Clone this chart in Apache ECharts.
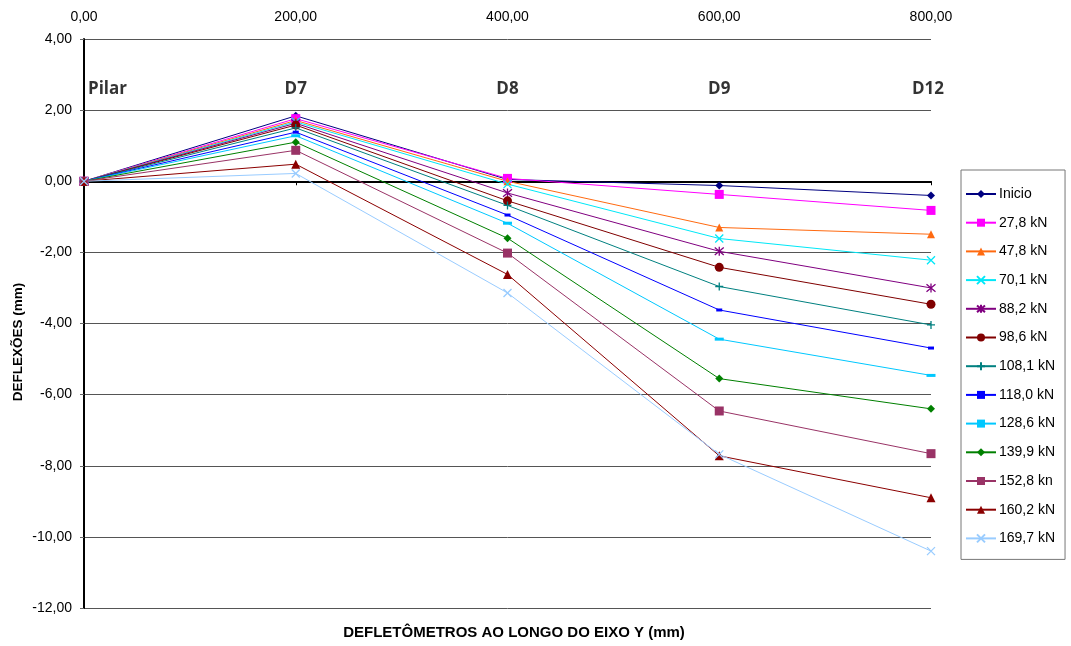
<!DOCTYPE html>
<html><head><meta charset="utf-8">
<script src="https://cdn.jsdelivr.net/npm/echarts@6/dist/echarts.min.js"></script>
<style>html,body{margin:0;padding:0;background:#fff}#c{width:1071px;height:646px}</style>
</head><body><div id="c"></div>
<script>
const xPositions = [0, 200, 400, 600, 800];
const pointNames = ['Pilar', 'D7', 'D8', 'D9', 'D12'];
const seriesNames = ['Inicio','27,8 kN','47,8 kN','70,1 kN','88,2 kN','98,6 kN','108,1 kN','118,0 kN','128,6 kN','139,9 kN','152,8 kn','160,2 kN','169,7 kN'];
const sInicio = [0, 1.84, 0.05, -0.12, -0.40];
const s27_8  = [0, 1.76, 0.08, -0.37, -0.82];
const s47_8  = [0, 1.71, 0.00, -1.30, -1.49];
const s70_1  = [0, 1.67, -0.08, -1.61, -2.22];
const s88_2  = [0, 1.63, -0.33, -1.97, -3.00];
const s98_6  = [0, 1.58, -0.55, -2.42, -3.46];
const s108_1 = [0, 1.50, -0.68, -2.96, -4.04];
const s118_0 = [0, 1.38, -0.95, -3.62, -4.69];
const s128_6 = [0, 1.28, -1.18, -4.44, -5.46];
const s139_9 = [0, 1.10, -1.60, -5.55, -6.40];
const s152_8 = [0, 0.87, -2.02, -6.46, -7.66];
const s160_2 = [0, 0.48, -2.62, -7.72, -8.90];
const s169_7 = [0, 0.22, -3.14, -7.68, -10.40];
const pointLabelLevel = 2.6;

const allValues = [sInicio,s27_8,s47_8,s70_1,s88_2,s98_6,s108_1,s118_0,s128_6,s139_9,s152_8,s160_2,s169_7];
const colors = ['#000080','#FF00FF','#FF6A10','#00E8F8','#800080','#800000','#008080','#0000FF','#00C8FF','#008000','#993366','#8B0000','#99CCFF'];
const X = 'path://M0,0L10,10M10,0L0,10';
const STAR = 'path://M0,0L10,10M10,0L0,10M5,-1L5,11';
const PLUS = 'path://M5,0L5,10M0,5L10,5';
const symbols = ['diamond','rect','triangle',X,STAR,'circle',PLUS,'rect','rect','diamond','rect','triangle',X];
const sizes = [8,9,8,8,9,9,8,[6,3],[9,3],8,9,9,8];

const fmt = v => v.toFixed(2).replace('.', ',');
const FONT = 'Liberation Sans, Arial, sans-serif';

const series = seriesNames.map((n, i) => ({
  name: n,
  type: 'line',
  xAxisIndex: 0,
  data: xPositions.map((x, j) => [x, allValues[i][j]]),
  symbol: symbols[i],
  symbolSize: sizes[i],
  showAllSymbol: true,
  color: colors[i],
  lineStyle: { color: colors[i], width: 1 },
  itemStyle: { color: colors[i], borderColor: colors[i], borderWidth: (typeof symbols[i] === 'string' && symbols[i].startsWith('path')) ? 1.3 : 0 },
  emphasis: { disabled: true },
  animation: false
}));

series.push({
  type: 'scatter',
  name: 'labels',
  xAxisIndex: 0,
  symbolSize: 0,
  silent: true,
  data: xPositions.map((x, j) => ({
    value: [x, pointLabelLevel],
    name: pointNames[j],
    label: j === 0 ? { align: 'left', offset: [4, 0] } : (j === 4 ? { offset: [-3, 0] } : {})
  })),
  label: {
    show: true, position: 'inside', formatter: p => p.name,
    fontFamily: 'Open Sans, Liberation Sans, sans-serif', fontWeight: 'bold', fontSize: 17, color: '#000'
  },
  animation: false
});

const chart = echarts.init(document.getElementById('c'), null, { renderer: 'canvas' });
chart.setOption({
  backgroundColor: '#fff',
  animation: false,
  grid: { left: 84, right: 140, top: 39, bottom: 38 },
  xAxis: [
    { type: 'value', position: 'bottom', min: 0, max: 800, interval: 200,
      axisLine: { show: true, onZero: true, onZeroAxisIndex: 0, lineStyle: { color: '#000', width: 2 } },
      axisTick: { show: true, inside: false, length: 4, lineStyle: { color: '#000' } },
      axisLabel: { show: false }, splitLine: { show: false } },
    { type: 'value', position: 'top', min: 0, max: 800, interval: 200,
      axisLine: { show: false, onZero: false }, axisTick: { show: false }, splitLine: { show: false },
      axisLabel: { formatter: fmt, margin: 15, fontFamily: FONT, fontSize: 14, color: '#000' } }
  ],
  yAxis: {
    type: 'value', min: -12, max: 4, interval: 2,
    axisLine: { show: true, onZero: false, lineStyle: { color: '#000', width: 2 } },
    axisTick: { show: true, inside: false, length: 4, lineStyle: { color: '#666' } },
    axisLabel: { formatter: fmt, margin: 12, fontFamily: FONT, fontSize: 14, color: '#000' },
    splitLine: { show: true, lineStyle: { color: '#555', width: 1 } }
  },
  legend: {
    data: seriesNames,
    orient: 'vertical',
    left: 961, top: 170,
    itemWidth: 30, itemHeight: 10, itemGap: 14.7,
    padding: [17, 10, 14, 4],
    borderColor: '#777', borderWidth: 1,
    textStyle: { fontFamily: FONT, fontSize: 14, lineHeight: 14, color: '#000', padding: [0, 0, 0, -2] },
    selectedMode: false
  },
  graphic: [
    { type: 'text', x: 514, y: 633, style: { text: 'DEFLETÔMETROS AO LONGO DO EIXO Y (mm)', font: 'bold 15px ' + FONT, fill: '#000', align: 'center', verticalAlign: 'middle' } },
    { type: 'text', x: 18, y: 342, rotation: Math.PI / 2, style: { text: 'DEFLEXÕES (mm)', font: 'bold 13.5px ' + FONT, fill: '#000', align: 'center', verticalAlign: 'middle' } }
  ],
  series: series
});
</script></body></html>
